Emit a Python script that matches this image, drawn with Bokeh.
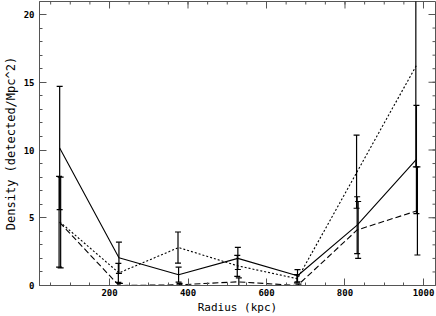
import math
from bokeh.plotting import figure
from bokeh.models import ColumnDataSource, Whisker, TeeHead, Range1d, FixedTicker
from bokeh.transform import dodge
from bokeh.embed import file_html
from bokeh.resources import INLINE

# ---- data ----
radius = [73, 224, 376, 527, 679, 831, 982]
solid = [10.15, 2.05, 0.8, 2.0, 0.72, 4.45, 9.3]
solid_err = [4.55, 1.15, 0.55, 0.82, 0.45, 2.1, 4.0]
dotted = [4.7, 0.93, 2.8, 1.45, 0.5, 8.4, 16.25]
dotted_err = [3.35, 0.7, 1.15, 0.77, 0.3, 2.7, 7.5]
dashed = [4.65, 0.0, 0.05, 0.27, 0.0, 4.1, 5.5]
dashed_err = [3.35, 0.15, 0.1, 0.3, 0.1, 2.1, 3.25]

x_ticks = [200, 400, 600, 800, 1000]
x_minor = list(range(50, 1001, 50))
y_ticks = [0, 5, 10, 15, 20]
y_minor = list(range(0, 21))

X0, X1 = 21.6, 1030.6
Y0, Y1 = 0, 20.96

FONT = "DejaVu Sans Mono"
INK = "#000000"
AX = "#555555"

def src(y, e):
    return ColumnDataSource(dict(x=radius, y=y,
                                 lo=[a - b for a, b in zip(y, e)],
                                 hi=[a + b for a, b in zip(y, e)]))

s_solid = src(solid, solid_err)
s_dotted = src(dotted, dotted_err)
s_dashed = src(dashed, dashed_err)

p = figure(width=436, height=316, output_backend="svg", toolbar_location=None,
           x_range=Range1d(X0, X1), y_range=Range1d(Y0, Y1),
           min_border_left=39, min_border_right=1, min_border_top=1,
           min_border_bottom=30)
p.grid.visible = False
p.outline_line_color = AX
p.background_fill_color = "white"
p.border_fill_color = "white"

for ax in (p.xaxis[0], p.yaxis[0]):
    ax.axis_line_color = AX
    ax.major_tick_line_color = AX
    ax.minor_tick_line_color = AX
    ax.major_tick_in = 7
    ax.major_tick_out = 0
    ax.minor_tick_in = 3
    ax.minor_tick_out = 0
    ax.major_label_text_font = FONT
    ax.major_label_text_font_size = "9px"
    ax.major_label_text_font_style = "bold"
    ax.major_label_text_color = INK
    ax.axis_label_text_font = FONT
    ax.axis_label_text_font_style = "normal"
    ax.axis_label_text_color = INK

p.xaxis.ticker = FixedTicker(ticks=x_ticks, minor_ticks=x_minor)
p.yaxis.ticker = FixedTicker(ticks=y_ticks, minor_ticks=y_minor)
p.xaxis.major_label_standoff = 3
p.yaxis.major_label_standoff = 5
p.xaxis.axis_label = "Radius (kpc)"
p.xaxis.axis_label_text_font_size = "11px"
p.xaxis.axis_label_standoff = 2
p.yaxis.axis_label = "Density (detected/Mpc^2)"
p.yaxis.axis_label_text_font_size = "12px"
p.yaxis.axis_label_standoff = 3

# mirrored inward ticks on the top and right edges
p.ray(x=x_ticks, y=[Y1] * len(x_ticks), length=7, length_units="screen",
      angle=-math.pi / 2, line_color=AX, line_width=1)
p.ray(x=x_minor, y=[Y1] * len(x_minor), length=3, length_units="screen",
      angle=-math.pi / 2, line_color=AX, line_width=1)
p.ray(x=[X1] * len(y_ticks), y=y_ticks, length=7, length_units="screen",
      angle=math.pi, line_color=AX, line_width=1)
p.ray(x=[X1] * len(y_minor), y=y_minor, length=3, length_units="screen",
      angle=math.pi, line_color=AX, line_width=1)

# lines
p.line("x", "y", source=s_solid, line_color=INK, line_width=1.1)
p.line("x", "y", source=s_dotted, line_color=INK, line_width=1.1, line_dash="2 2")
p.line("x", "y", source=s_dashed, line_color=INK, line_width=1.1, line_dash="6 3")

# error bars
for s, off in [(s_solid, 0), (s_dashed, 2.5), (s_dotted, -1.5)]:
    w = Whisker(base=dodge("x", off, range=p.x_range), upper="hi", lower="lo", source=s,
                line_color=INK, line_width=1.2,
                upper_head=TeeHead(size=6, line_color=INK, line_width=1.2),
                lower_head=TeeHead(size=6, line_color=INK, line_width=1.2))
    p.add_layout(w)

open("out.html", "w").write(file_html(p, INLINE))
